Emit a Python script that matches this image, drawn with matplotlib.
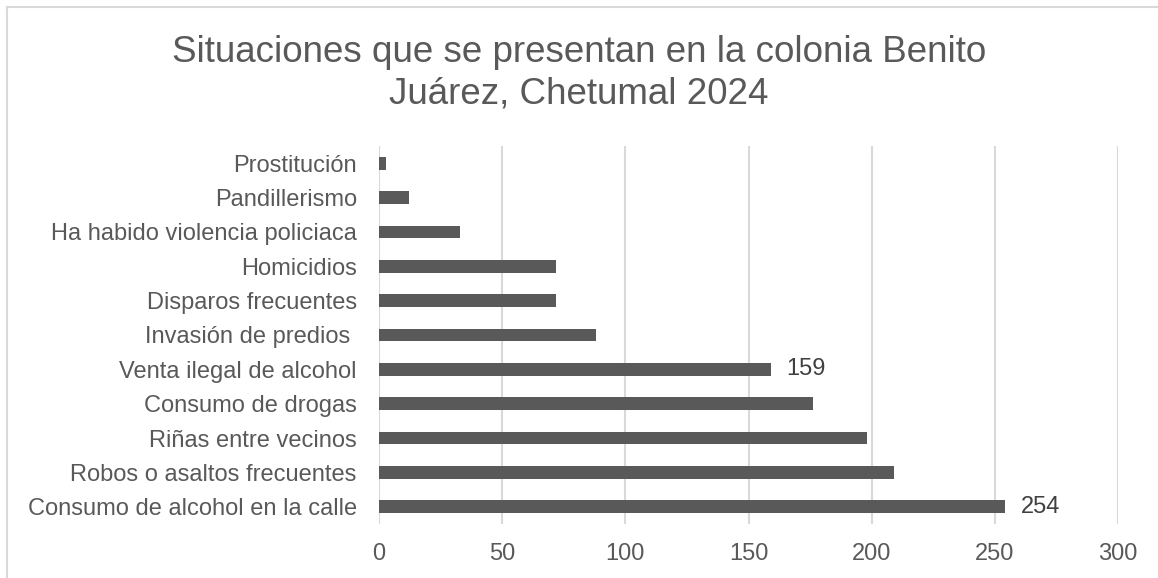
import matplotlib.pyplot as plt
from matplotlib.lines import Line2D

plt.rcParams['font.family'] = ['Liberation Sans', 'DejaVu Sans']

categorias = [
    "Consumo de alcohol en la calle",
    "Robos o asaltos frecuentes",
    "Riñas entre vecinos",
    "Consumo de drogas",
    "Venta ilegal de alcohol",
    "Invasión de predios ",
    "Disparos frecuentes",
    "Homicidios",
    "Ha habido violencia policiaca",
    "Pandillerismo",
    "Prostitución",
]
valores = [254, 209, 198, 176, 159, 88, 72, 72, 33, 12, 3]
etiquetados = {"Consumo de alcohol en la calle", "Venta ilegal de alcohol"}

gris = '#595959'
W, H = 1158, 578

fig = plt.figure(figsize=(W / 100, H / 100), dpi=100)
ax = fig.add_axes([379 / W, 1 - 524 / H, (1118 - 379) / W, 378 / H])

pos = range(len(categorias))
ax.barh(pos, valores, height=0.37, color=gris, zorder=3)

for i, (c, v) in enumerate(zip(categorias, valores)):
    if c in etiquetados:
        ax.text(v + 6.5, i, str(v), va='center', ha='left', fontsize=17, color='#404040')

ax.set_xlim(0, 300)
ax.set_ylim(-0.5, len(categorias) - 0.5)
ax.set_xticks(range(0, 301, 50))
ax.set_yticks(list(pos))
ax.set_yticklabels(categorias)
ax.grid(axis='x', color='#d9d9d9', linewidth=1.5, zorder=0)
for s in ax.spines.values():
    s.set_visible(False)
ax.tick_params(axis='both', length=0, labelsize=17, labelcolor=gris)
ax.tick_params(axis='x', pad=14)
ax.tick_params(axis='y', pad=16)

fig.text(0.5, 1 - 62 / H, "Situaciones que se presentan en la colonia Benito",
         ha='center', va='baseline', fontsize=26.5, color=gris)
fig.text(0.5, 1 - 103 / H, "Juárez, Chetumal 2024",
         ha='center', va='baseline', fontsize=26.5, color=gris)

# borde del grafico (solo arriba e izquierda)
fig.lines.append(Line2D([7 / W, 1], [1 - 7 / H, 1 - 7 / H], transform=fig.transFigure,
                        color='#d9d9d9', linewidth=1.5))
fig.lines.append(Line2D([7 / W, 7 / W], [0, 1 - 7 / H], transform=fig.transFigure,
                        color='#d9d9d9', linewidth=1.5))

fig.savefig('out.png', dpi=100)
